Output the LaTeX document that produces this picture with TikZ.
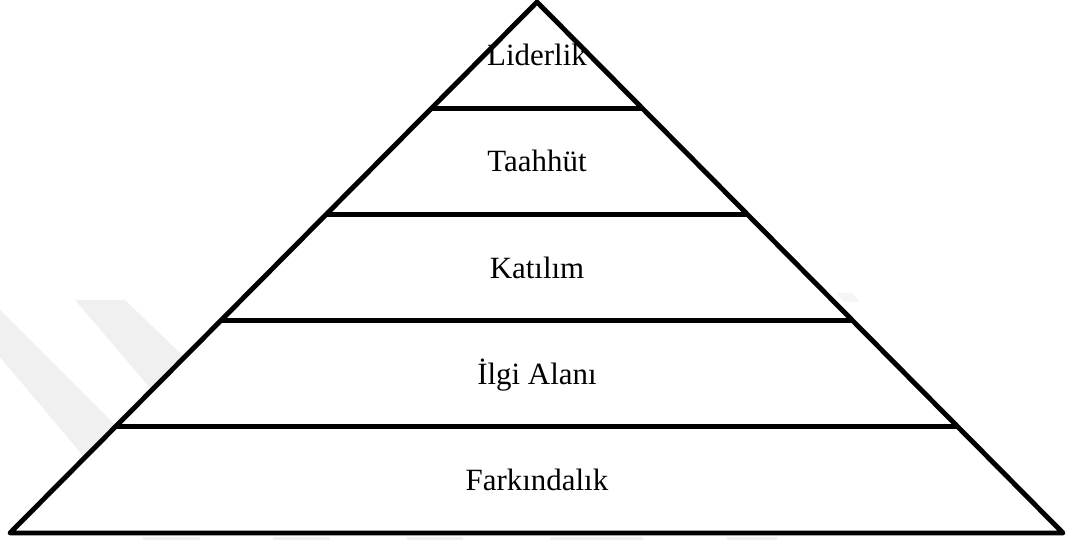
\documentclass[tikz,border=0pt]{standalone}
\usepackage{fontspec}
\setmainfont{Liberation Serif}
\usetikzlibrary{calc}

\begin{document}
\begin{tikzpicture}[
    x=0.02cm, y=-0.02cm,
    edge/.style   = {draw=black, line width=2.8pt, line join=round},
    level/.style  = {font=\fontsize{17.6}{21}\selectfont, anchor=base, inner sep=0pt},
    wmband/.style = {fill=black!6, draw=none}
  ]
    \useasboundingbox (0,0) rectangle (1066,540);
    \clip (0,0) rectangle (1066,540);

    % faint watermark bands
    \fill[wmband] (-40,268) -- (0,310) -- (160,470) -- (120,500) -- (0,357) -- (-40,320) -- cycle;
    \fill[wmband] (75,300) -- (125,300) -- (260,430) -- (220,470) -- cycle;
    \fill[wmband, fill=black!4] (836,293) -- (852,293) -- (860,302) -- (844,302) -- cycle;
    \fill[wmband] (143,537) rectangle (200,545);
    \fill[wmband] (273,537) rectangle (330,545);
    \fill[wmband] (407,537) rectangle (463,545);
    \fill[wmband] (550,537) rectangle (643,545);
    \fill[wmband] (727,537) rectangle (777,545);

    \coordinate (apex) at (537,2);
    \coordinate (bl)   at (10,533);
    \coordinate (br)   at (1063,533);

    \filldraw[edge, fill=white] (apex) -- (bl) -- (br) -- cycle;
    \draw[edge] ($(apex)!0.2!(bl)$) -- ($(apex)!0.2!(br)$);
    \draw[edge] ($(apex)!0.4!(bl)$) -- ($(apex)!0.4!(br)$);
    \draw[edge] ($(apex)!0.6!(bl)$) -- ($(apex)!0.6!(br)$);
    \draw[edge] ($(apex)!0.8!(bl)$) -- ($(apex)!0.8!(br)$);

    \node[level] (lider)   at (537,66)  {Liderlik};
    \node[level] (taahhut) at (537,172) {Taahhüt};
    \node[level] (katilim) at (537,279) {Katılım};
    \node[level] (ilgi)    at (537,385) {İlgi Alanı};
    \node[level] (fark)    at (537,491) {Farkındalık};
  \end{tikzpicture}
\end{document}
